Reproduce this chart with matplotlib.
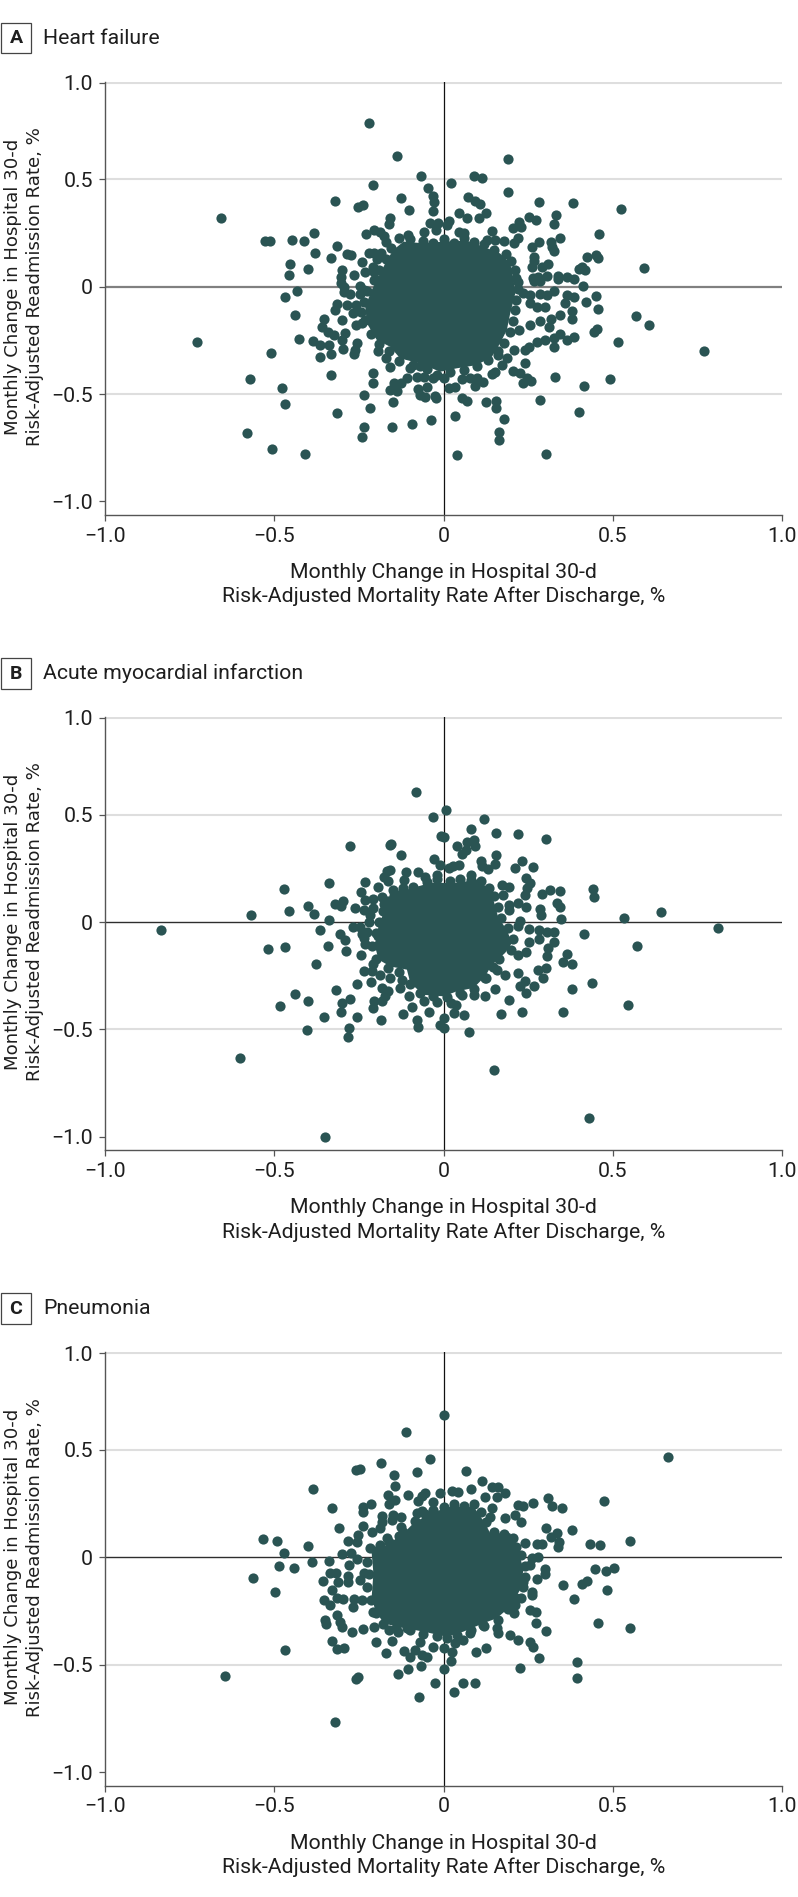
import matplotlib
matplotlib.use("Agg")
import matplotlib.pyplot as plt
from matplotlib.patches import Rectangle

# ======================= DATA =======================

W, H = 798, 1897

panel_letters = ["A", "B", "C"]
panel_titles = ["Heart failure", "Acute myocardial infarction", "Pneumonia"]
x_ticks = [-1.0, -0.5, 0, 0.5, 1.0]
x_tick_labels = ["\u22121.0", "\u22120.5", "0", "0.5", "1.0"]
# the top tick of the original sits a little below its true place
y_ticks = [-1.0, -0.5, 0, 0.5, 0.95]
y_tick_labels = ["\u22121.0", "\u22120.5", "0", "0.5", "1.0"]
grid_values = [-0.5, 0.5, 0.95]
x_label = "Monthly Change in Hospital 30-d\nRisk-Adjusted Mortality Rate After Discharge, %"
y_label = "Monthly Change in Hospital 30-d\nRisk-Adjusted Readmission Rate, %"

# Heart failure
a_points = [
    (-.221,.76),(-.136,.609),(.19,.593),(-.067,.517),(.089,.517),(.113,.506),(-.207,.475),(.021,.481),(-.046,.46),
    (-.03,.424),(-.027,.396),(.19,.44),(.072,.418),(.092,.399),(.109,.384),(-.126,.412),(-.319,.398),(-.251,.371),
    (-.238,.379),(-.102,.359),(.283,.394),(.382,.391),(.524,.363),(-.031,.351),(.046,.342),(.069,.318),(.126,.343),
    (.106,.32),(.333,.335),(.251,.326),(.272,.311),(-.656,.318),(-.157,.32),(-.162,.294),(.017,.307),(.01,.286),
    (-.039,.295),(-.017,.295),(-.023,.264),(.222,.303),(.205,.272),(.228,.28),(.326,.292),(-.23,.247),(-.205,.262),
    (-.187,.256),(-.176,.236),(-.171,.208),(-.057,.255),(.143,.261),(.045,.253),(.062,.252),(-.105,.241),(-.383,.248),
    (.459,.247),(.343,.228),(.283,.21),(.317,.208),(.221,.227),(.207,.205),(.179,.213),(.128,.217),(.152,.217),
    (-.526,.214),(-.512,.214),(-.447,.217),(-.411,.211),(-.313,.188),(.26,.183),(.327,.165),(.32,.186),(-.378,.155),
    (-.285,.152),(-.272,.149),(-.331,.132),(-.219,.158),(-.204,.158),(-.186,.155),(-.195,.13),(.424,.14),(.45,.146),
    (.455,.135),(.268,.14),(.268,.121),(-.24,.113),(-.453,.104),(.309,.106),(.292,.093),(.261,.093),(-.399,.081),
    (.591,.089),(.408,.09),(.399,.081),(.419,.078),(-.209,.09),(-.204,.07),(-.231,.067),(-.299,.076),(-.455,.054),
    (-.264,.056),(-.303,.047),(.337,.051),(.305,.05),(.28,.043),(.264,.039),(.364,.043),(.385,.037),(.337,.034),
    (.266,.026),(.285,.028),(.221,.02),(-.303,.019),(.413,.002),(-.2,.031),(-.248,.003),(-.293,0),(-.236,-.016),
    (-.433,-.019),(-.293,-.023),(.325,-.019),(.285,-.034),(.307,-.04),(.236,-.031),(.254,-.04),(-.248,-.034),
    (-.276,-.034),(-.468,-.05),(.366,-.04),(.386,-.047),(.451,-.043),(.36,-.078),(.421,-.073),(.301,-.096),
    (.256,-.078),(.276,-.093),(-.315,-.081),(-.258,-.084),(-.285,-.087),(-.319,-.109),(.455,-.106),(.379,-.115),
    (-.266,-.124),(-.438,-.132),(.343,-.13),(.569,-.138),(.379,-.152),(.285,-.158),(.317,-.149),(-.354,-.149),
    (-.3,-.155),(-.231,-.155),(-.258,-.177),(.256,-.177),(.311,-.186),(.607,-.177),(-.358,-.189),(-.342,-.21),
    (.453,-.199),(.443,-.211),(.224,-.202),(-.291,-.216),(-.323,-.227),(.343,-.221),(.384,-.233),(.327,-.239),
    (.366,-.248),(-.3,-.248),(-.426,-.242),(-.386,-.253),(-.366,-.273),(-.339,-.272),(-.728,-.259),(.514,-.258),
    (.3,-.248),(.276,-.259),(.252,-.28),(.327,-.283),(.241,-.295),(.207,-.295),(-.256,-.264),(-.261,-.295),
    (-.297,-.289),(-.509,-.309),(-.332,-.312),(-.365,-.326),(-.263,-.314),(-.192,-.298),(-.17,-.334),(-.159,-.373),
    (-.1,-.38),(-.069,-.37),(.187,-.334),(.162,-.318),(.172,-.365),(.242,-.353),(.153,-.396),(.143,-.407),
    (.204,-.394),(.226,-.404),(.246,-.427),(.236,-.446),(.258,-.439),(.33,-.422),(.492,-.429),(.415,-.463),
    (-.332,-.413),(-.207,-.401),(-.209,-.446),(-.571,-.432),(-.477,-.471),(-.468,-.548),(-.108,-.427),(-.126,-.45),
    (-.146,-.45),(-.157,-.481),(-.138,-.485),(-.236,-.502),(-.149,-.536),(-.077,-.422),(-.059,-.419),(-.03,-.427),
    (0,-.427),(-.049,-.469),(-.074,-.475),(-.069,-.505),(-.054,-.514),(-.025,-.509),(-.023,-.52),(.015,-.471),
    (.034,-.469),(.054,-.432),(.079,-.426),(.098,-.427),(.118,-.443),(.094,-.463),(.056,-.52),(.069,-.531),
    (.126,-.536),(.155,-.531),(.155,-.564),(.286,-.528),(.399,-.582),(-.314,-.587),(-.217,-.567),(.033,-.601),
    (.179,-.618),(-.038,-.62),(-.093,-.64),(-.153,-.651),(-.236,-.655),(-.242,-.699),(-.579,-.68),(.165,-.676),
    (.164,-.716),(-.506,-.756),(-.408,-.781),(.04,-.783),(.303,-.78),(.769,-.301),
    # rim of the dense centre
    (-.13,.225),(-.1,.22),(-.06,.215),(-.03,.205),(0,.22),(.03,.205),(.06,.225),(.09,.21),(.12,.2),(.15,.17),
    (.185,.15),(.2,.12),(.21,.08),(.215,.04),(.22,-.01),(.215,-.06),(.21,-.11),(.205,-.16),(.195,-.21),(.18,-.26),
    (.16,-.3),(.13,-.34),(.1,-.37),(.06,-.39),(.02,-.395),(-.02,-.41),(-.05,-.385),(-.09,-.365),(-.13,-.345),
    (-.16,-.3),(-.19,-.265),(-.215,-.22),(-.24,-.17),(-.245,-.12),(-.235,-.07),(-.225,-.02),(-.205,.03),(-.19,.08),
    (-.17,.13),(-.155,.18),
]
# dense centre, too many overlapping points to tell apart, so it is kept as its outline
a_core = [
    (-.118,.21),(-.059,.202),(0,.21),(.069,.214),(.118,.186),(.167,.155),(.197,.109),(.207,.031),(.212,-.031),
    (.197,-.124),(.187,-.202),(.167,-.264),(.143,-.326),(.098,-.365),(.039,-.38),(-.01,-.396),(-.069,-.357),
    (-.128,-.334),(-.157,-.28),(-.197,-.248),(-.226,-.171),(-.231,-.093),(-.212,-.016),(-.187,.062),(-.167,.124),
    (-.148,.171),
]

# Acute myocardial infarction
b_points = [
    (-.082,.604),(.006,.52),(-.031,.489),(.121,.481),(.081,.435),(.156,.416),(.22,.408),(.302,.388),(-.008,.402),
    (.002,.398),(-.276,.353),(-.155,.365),(-.157,.357),(-.125,.311),(.039,.354),(.089,.384),(.069,.371),(.094,.353),
    (.067,.337),(.056,.317),(.156,.311),(-.028,.292),(.11,.283),(.153,.27),(.113,.262),(.131,.247),(.231,.283),
    (.211,.253),(.264,.255),(-.01,.267),(.015,.252),(.046,.267),(.029,.259),(-.159,.244),(-.167,.236),(-.11,.231),
    (-.074,.233),(-.177,.21),(-.164,.189),(-.118,.197),(-.054,.208),(-.02,.221),(.082,.217),(.244,.203),(.254,.182),
    (-.232,.185),(-.339,.182),(-.472,.152),(-.194,.163),(-.243,.138),(.172,.174),(.194,.163),(.246,.158),(.44,.152),
    (.445,.116),(.345,.146),(.314,.149),(.291,.129),(.241,.126),(.177,.127),(-.231,.104),(-.182,.116),(-.207,.107),
    (-.177,.085),(-.297,.098),(-.321,.085),(-.303,.076),(-.399,.073),(-.261,.067),(-.236,.054),(-.207,.065),
    (.335,.087),(.343,.071),(.221,.089),(.244,.068),(.192,.081),(.194,.054),(.285,.061),(.287,.034),(-.457,.053),
    (-.382,.037),(-.568,.031),(.641,.048),(.534,.017),(.346,.012),(-.337,.008),(-.217,.034),(-.221,-.002),(.226,.003),
    (.221,-.02),(.251,-.033),(.281,-.036),(-.266,-.022),(-.246,-.022),(-.364,-.039),(-.226,-.048),(-.241,-.054),
    (.307,-.048),(.325,-.047),(.415,-.054),(-.305,-.057),(-.29,-.085),(.283,-.078),(-.236,-.075),(-.231,-.104),
    (-.192,-.064),(-.342,-.11),(-.468,-.115),(-.518,-.127),(.57,-.112),(.325,-.095),(.31,-.121),(.251,-.092),
    (-.288,-.134),(-.192,-.106),(.244,-.141),(.221,-.152),(-.244,-.154),(.307,-.16),(.365,-.151),(.352,-.188),
    (.38,-.197),(-.376,-.196),(-.207,-.194),(-.236,-.227),(-.212,-.23),(.302,-.214),(.28,-.222),(.293,-.261),
    (.221,-.238),(.182,-.245),(.157,-.222),(.123,-.261),(-.187,-.245),(-.157,-.261),(-.123,-.269),(-.214,-.278),
    (-.256,-.287),(.438,-.286),(.241,-.276),(.266,-.3),(.226,-.297),(.244,-.331),(.378,-.314),(-.128,-.307),
    (-.182,-.307),(-.163,-.323),(-.317,-.315),(.153,-.312),(.123,-.346),(.089,-.342),(.054,-.339),(-.101,-.343),
    (-.172,-.343),(-.437,-.337),(-.275,-.359),(-.301,-.377),(-.4,-.368),(-.205,-.367),(-.182,-.37),(.194,-.365),
    (-.059,-.37),(-.02,-.374),(.022,-.377),(.036,-.385),(-.482,-.393),(-.094,-.398),(.544,-.388),(-.209,-.402),
    (-.302,-.419),(-.043,-.419),(-.12,-.426),(.03,-.422),(.062,-.433),(.17,-.427),(.231,-.418),(.354,-.419),
    (-.353,-.441),(-.255,-.443),(-.186,-.458),(-.078,-.455),(0,-.446),(-.01,-.478),(.002,-.494),(-.076,-.491),
    (-.279,-.495),(-.282,-.534),(-.403,-.503),(.075,-.514),(-.601,-.631),(.149,-.688),(.431,-.914),(-.351,-1.001),
    (-.835,-.037),(.811,-.028),
    # rim of the dense centre
    (-.15,.15),(-.12,.16),(-.09,.165),(-.05,.185),(-.02,.2),(.02,.19),(.05,.2),(.08,.195),(.11,.19),(.135,.16),
    (.15,.12),(.16,.07),(.17,.02),(.19,-.03),(.205,-.08),(.2,-.13),(.165,-.17),(.145,-.21),(.125,-.26),(.09,-.31),
    (.05,-.33),(.01,-.35),(-.03,-.345),(-.07,-.33),(-.1,-.29),(-.13,-.235),(-.165,-.215),(-.2,-.17),(-.21,-.11),
    (-.2,-.05),(-.19,0),(-.18,.05),(-.165,.1),
]
b_core = [
    (-.157,.143),(-.108,.151),(-.039,.182),(.039,.182),(.098,.197),(.138,.151),(.153,.073),(.162,.019),(.187,-.036),
    (.202,-.098),(.182,-.144),(.143,-.199),(.123,-.253),(.089,-.307),(.039,-.323),(0,-.346),(-.059,-.339),
    (-.098,-.284),(-.108,-.222),(-.157,-.207),(-.192,-.175),(-.202,-.113),(-.192,-.02),(-.177,.042),(-.162,.104),
]

# Pneumonia
c_points = [
    (0,.663),(-.111,.585),(.663,.466),(-.039,.458),(-.186,.441),(-.259,.407),(-.247,.413),(-.147,.384),(-.079,.396),
    (.065,.401),(.113,.357),(-.385,.32),(-.143,.331),(.182,.298),(.143,.326),(.162,.326),(.082,.317),(.025,.309),
    (.044,.306),(-.01,.298),(-.054,.298),(-.064,.286),(-.106,.29),(-.165,.29),(-.143,.267),(-.162,.247),(-.076,.264),
    (-.03,.256),(.123,.28),(.157,.28),(.309,.276),(.319,.241),(.473,.262),(.35,.23),(.221,.244),(.236,.241),
    (.263,.255),(-.214,.248),(-.239,.233),(-.237,.211),(-.33,.231),(.143,.228),(.138,.189),(-.064,.217),(-.079,.205),
    (-.181,.193),(-.15,.197),(-.126,.189),(-.153,.174),(-.182,.166),(.212,.197),(.182,.182),(.228,.166),(-.125,.143),
    (-.237,.144),(-.187,.135),(-.211,.118),(-.309,.138),(.303,.135),(.38,.129),(.335,.112),(.317,.096),(-.253,.106),
    (-.281,.076),(-.256,.073),(-.167,.089),(-.13,.099),(-.532,.084),(-.493,.078),(-.399,.053),(.551,.078),(.434,.064),
    (.462,.056),(.342,.071),(.338,.05),(.276,.062),(.29,.062),(.242,.068),(-.217,.042),(-.187,.057),(-.471,.019),
    (-.299,.014),(-.274,.022),(.279,.003),(.261,-.005),(-.389,-.023),(-.339,-.016),(-.256,-.009),(-.485,-.039),
    (-.442,-.048),(-.278,-.037),(.256,-.036),(.299,-.053),(.3,-.076),(.448,-.053),(.48,-.064),(.504,-.048),
    (-.334,-.071),(-.316,-.071),(-.236,-.075),(-.283,-.087),(-.561,-.098),(-.355,-.109),(-.312,-.116),(-.283,-.113),
    (-.246,-.106),(.276,-.101),(.236,-.116),(.352,-.13),(.408,-.124),(.425,-.112),(-.33,-.154),(-.497,-.163),
    (.482,-.154),(.26,-.16),(.26,-.175),(-.241,-.199),(-.264,-.196),(-.352,-.197),(-.315,-.188),(-.297,-.196),
    (-.266,-.23),(-.334,-.224),(.384,-.196),(.229,-.191),(.212,-.222),(-.207,-.256),(.207,-.258),(.256,-.245),
    (.272,-.256),(-.315,-.269),(-.35,-.292),(-.346,-.312),(-.305,-.303),(-.301,-.326),(.274,-.306),(.455,-.304),
    (.55,-.328),(.303,-.343),(-.205,-.325),(-.237,-.332),(-.271,-.349),(-.162,-.339),(-.133,-.346),(-.108,-.331),
    (.159,-.331),(.162,-.351),(.118,-.315),(.079,-.351),(.197,-.363),(.221,-.385),(.254,-.394),(.263,-.418),
    (-.33,-.388),(-.2,-.393),(-.153,-.388),(.059,-.385),(-.069,-.393),(.01,-.377),(-.314,-.425),(-.294,-.424),
    (-.468,-.43),(-.03,-.419),(0,-.422),(.034,-.401),(.025,-.439),(.126,-.421),(.096,-.443),(-.118,-.436),
    (-.17,-.447),(-.084,-.432),(-.1,-.463),(-.064,-.455),(-.049,-.463),(.022,-.481),(.281,-.47),(-.066,-.505),
    (-.106,-.519),(0,-.52),(.227,-.516),(.395,-.488),(-.135,-.545),(.393,-.561),(-.251,-.556),(-.259,-.567),
    (-.645,-.554),(-.025,-.584),(.059,-.587),(.092,-.584),(.03,-.629),(-.071,-.649),(-.321,-.766),
    # rim of the dense centre
    (-.03,.22),(0,.235),(.03,.25),(.06,.24),(.09,.25),(.11,.21),(.125,.165),(.15,.12),(.18,.11),(.205,.09),
    (.215,.05),(.23,.01),(.24,-.04),(.24,-.09),(.235,-.14),(.215,-.19),(.19,-.24),(.16,-.29),(.12,-.32),(.08,-.34),
    (.04,-.36),(-.02,-.365),(-.06,-.355),(-.1,-.34),(-.14,-.33),(-.18,-.31),(-.2,-.26),(-.215,-.2),(-.225,-.14),
    (-.22,-.08),(-.225,-.02),(-.2,.03),(-.16,.07),(-.12,.12),(-.085,.17),(-.055,.2),
]
c_core = [
    (-.039,.205),(.02,.236),(.089,.236),(.123,.158),(.138,.112),(.197,.112),(.221,.034),(.236,-.059),(.226,-.152),
    (.197,-.23),(.157,-.284),(.118,-.307),(.059,-.346),(.01,-.37),(-.059,-.346),(-.138,-.323),(-.177,-.307),
    (-.202,-.245),(-.212,-.183),(-.207,-.075),(-.212,.019),(-.167,.057),(-.118,.112),(-.089,.158),
]

panel_points = [a_points, b_points, c_points]
panel_cores = [a_core, b_core, c_core]

# ======================= STYLE =======================

DOT = "#2a5453"
GRID = "#dedede"
AXIS = "#555555"
INK = "#1e1e1e"
NARROW = ["Roboto", "DejaVu Sans"]
WIDE = ["DejaVu Sans"]
TEXT_SIZE = 15.3

# pixel rows of each panel: y=0 line, letter box top
zero_rows = [286.7, 922.0, 1557.3]
box_tops = [22.7, 658.0, 1293.3]
zero_colors = ["#808080", "#2e2e2e", "#2e2e2e"]
zero_widths = [1.6, 1.0, 1.0]
PX_PER_Y = 214.8
LEFT, RIGHT = 104.8, 782.2
Y_LOW, Y_HIGH = -1.063, 0.955

fig = plt.figure(figsize=(W / 100, H / 100), dpi=100, facecolor="white")

for i in range(3):
    y0 = zero_rows[i]
    top = y0 - Y_HIGH * PX_PER_Y
    bottom = y0 - Y_LOW * PX_PER_Y
    ax = fig.add_axes([LEFT / W, 1 - bottom / H, (RIGHT - LEFT) / W, (bottom - top) / H])
    ax.set_xlim(-1, 1)
    ax.set_ylim(Y_LOW, Y_HIGH)

    for g in grid_values:
        ax.axhline(g, color=GRID, lw=1.5, zorder=1)
    ax.axhline(0, color=zero_colors[i], lw=zero_widths[i], zorder=2)
    ax.axvline(0, color="#111111", lw=0.9, zorder=2)

    core_x, core_y = zip(*panel_cores[i])
    ax.fill(core_x, core_y, color=DOT, lw=0, zorder=3)
    xs, ys = zip(*panel_points[i])
    ax.scatter(xs, ys, s=54, color=DOT, linewidths=0, zorder=4, clip_on=False)

    for side in ["top", "right"]:
        ax.spines[side].set_visible(False)
    for side in ["left", "bottom"]:
        ax.spines[side].set_color(AXIS)
        ax.spines[side].set_linewidth(1.0)

    ax.set_xticks(x_ticks)
    ax.set_xticklabels(x_tick_labels, family=NARROW, fontsize=TEXT_SIZE, color=INK)
    ax.set_yticks(y_ticks)
    ax.set_yticklabels(y_tick_labels, family=NARROW, fontsize=TEXT_SIZE, color=INK)
    ax.tick_params(axis="both", length=4.5, width=0.9, color=AXIS, pad=4)

    # axis titles are placed in pixels, the original centres them on the zero lines
    fig.text(443.3 / W, 1 - (y0 + 298) / H, x_label, family=NARROW, fontsize=TEXT_SIZE, color=INK,
             ha="center", va="center", linespacing=1.3)
    fig.text(24 / W, 1 - y0 / H, y_label, family=WIDE, fontsize=13.1, color=INK,
             rotation=90, ha="center", va="center", linespacing=1.35, multialignment="center")

    # panel letter box and title
    box_top = box_tops[i]
    fig.add_artist(Rectangle((1 / W, 1 - (box_top + 30.5) / H), 30 / W, 30.5 / H, transform=fig.transFigure,
                             facecolor="white", edgecolor="#444444", lw=0.9))
    fig.text(16 / W, 1 - (box_top + 15.5) / H, panel_letters[i], family=NARROW, fontsize=14, weight="bold",
             color=INK, ha="center", va="center")
    fig.text(43 / W, 1 - (box_top + 15.5) / H, panel_titles[i], family=NARROW, fontsize=TEXT_SIZE, color=INK,
             ha="left", va="center")

fig.savefig("out.png", dpi=100)
